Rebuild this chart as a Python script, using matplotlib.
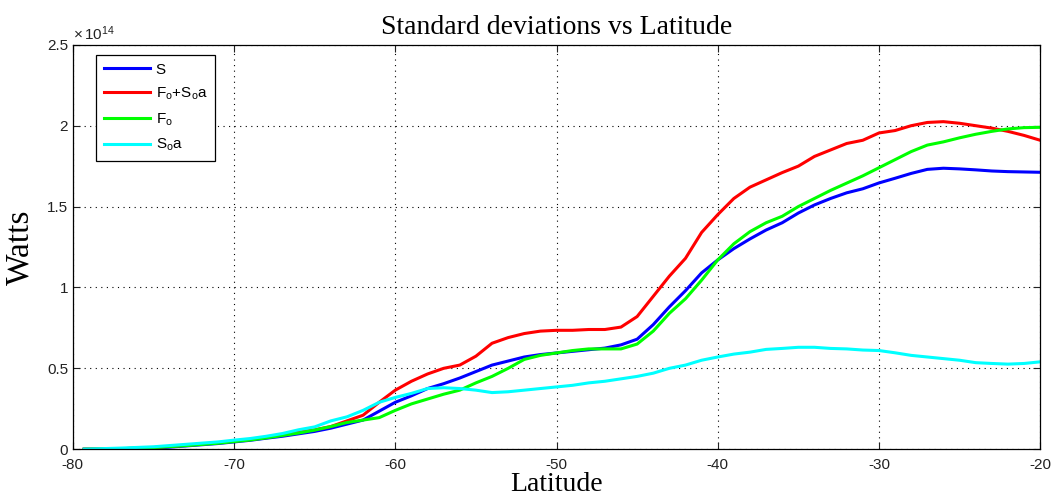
import numpy as np
import matplotlib
matplotlib.use("Agg")
import matplotlib.pyplot as plt
from matplotlib.ticker import FuncFormatter

# latitude points (degrees) and std devs in units of 1e14 W
lat = [-79.3, -77, -75, -73, -71, -70, -69, -68, -67, -66, -65, -64, -63, -62,
       -61, -60, -59, -58, -57, -56, -55, -54, -53, -52, -51, -50, -49, -48,
       -47, -46, -45, -44, -43, -42, -41, -40, -39, -38, -37, -36, -35, -34,
       -33, -32, -31, -30, -29, -28, -27, -26, -25, -24, -23, -22, -21, -20]

s_tot = [0, 0.002, 0.005, 0.02, 0.035, 0.045, 0.055, 0.068, 0.08, 0.095, 0.11,
         0.13, 0.155, 0.18, 0.235, 0.29, 0.33, 0.375, 0.405, 0.44, 0.48, 0.52,
         0.545, 0.57, 0.585, 0.595, 0.605, 0.615, 0.625, 0.645, 0.68, 0.77,
         0.88, 0.98, 1.09, 1.17, 1.24, 1.30, 1.355, 1.40, 1.46, 1.51, 1.55,
         1.585, 1.61, 1.646, 1.675, 1.705, 1.73, 1.737, 1.733, 1.727, 1.72,
         1.716, 1.714, 1.712]

fo_soa = [0, 0.003, 0.01, 0.024, 0.04, 0.05, 0.06, 0.073, 0.09, 0.105, 0.12,
          0.14, 0.175, 0.21, 0.29, 0.365, 0.42, 0.465, 0.50, 0.52, 0.575,
          0.655, 0.69, 0.715, 0.73, 0.735, 0.735, 0.74, 0.74, 0.755, 0.82,
          0.945, 1.07, 1.18, 1.34, 1.45, 1.55, 1.62, 1.665, 1.71, 1.75, 1.81,
          1.85, 1.89, 1.91, 1.955, 1.97, 2.0, 2.02, 2.025, 2.015, 2.0, 1.985,
          1.965, 1.94, 1.91]

fo = [0, 0.003, 0.01, 0.022, 0.037, 0.047, 0.057, 0.07, 0.085, 0.1, 0.118,
      0.14, 0.165, 0.18, 0.195, 0.24, 0.28, 0.31, 0.34, 0.365, 0.41, 0.45,
      0.50, 0.555, 0.58, 0.595, 0.61, 0.62, 0.62, 0.62, 0.65, 0.73, 0.84,
      0.93, 1.045, 1.17, 1.27, 1.345, 1.40, 1.44, 1.50, 1.55, 1.60, 1.645,
      1.69, 1.74, 1.79, 1.84, 1.88, 1.90, 1.925, 1.947, 1.965, 1.98, 1.988,
      1.99]

soa = [0, 0.007, 0.015, 0.03, 0.045, 0.056, 0.066, 0.08, 0.097, 0.12, 0.138,
       0.175, 0.2, 0.24, 0.29, 0.32, 0.345, 0.375, 0.38, 0.375, 0.365, 0.35,
       0.355, 0.365, 0.375, 0.385, 0.395, 0.41, 0.42, 0.435, 0.45, 0.47, 0.5,
       0.52, 0.55, 0.57, 0.588, 0.60, 0.617, 0.623, 0.63, 0.63, 0.623, 0.62,
       0.613, 0.61, 0.596, 0.58, 0.57, 0.56, 0.55, 0.535, 0.53, 0.526, 0.53,
       0.54]

plt.rcParams['font.family'] = ['Liberation Sans', 'DejaVu Sans']
plt.rcParams['mathtext.default'] = 'regular'
plt.rcParams['axes.unicode_minus'] = False

fig = plt.figure(figsize=(10.56, 4.98), dpi=100)
ax = fig.add_axes([0.069, 0.098, 0.916, 0.812])

ax.plot(lat, s_tot, color=(0, 0, 1), lw=2.2, label='S')
ax.plot(lat, fo_soa, color=(1, 0, 0), lw=2.2, label='F$_o$+S$_o$a')
ax.plot(lat, fo, color=(0, 1, 0), lw=2.2, label='F$_o$')
ax.plot(lat, soa, color=(0, 1, 1), lw=2.2, label='S$_o$a')

ax.set_xlim(-80, -20)
ax.set_ylim(0, 2.5)
ax.set_xticks(np.arange(-80, -19, 10))
ax.set_yticks(np.arange(0, 2.51, 0.5))
ax.yaxis.set_major_formatter(FuncFormatter(lambda v, p: '%g' % v))
ax.grid(True, color='black', linestyle=(0, (1, 4)), linewidth=0.8)
ax.tick_params(direction='in', top=True, right=True, length=5,
               labelsize=11, colors='#222222')
ax.tick_params(axis='x', pad=6)
for sp in ax.spines.values():
    sp.set_linewidth(0.9)

ax.text(0.0, 1.005, r'$\times\,10^{14}$', transform=ax.transAxes,
        fontsize=11, color='#222222', ha='left', va='bottom')

ax.set_title('Standard deviations vs Latitude', fontsize=20,
             family='Liberation Serif', pad=8)
ax.set_xlabel('Latitude', fontsize=20, family='Liberation Serif', labelpad=0)
ax.set_ylabel('Watts', fontsize=24, family='Liberation Serif', labelpad=8)

leg = ax.legend(loc='upper left', bbox_to_anchor=(0.024, 0.975), fontsize=11,
                fancybox=False, framealpha=1, edgecolor='black',
                handlelength=3.0, handletextpad=0.4, borderpad=0.5,
                labelspacing=0.6, borderaxespad=0)
leg.get_frame().set_linewidth(0.9)

fig.savefig('out.png', dpi=100)
